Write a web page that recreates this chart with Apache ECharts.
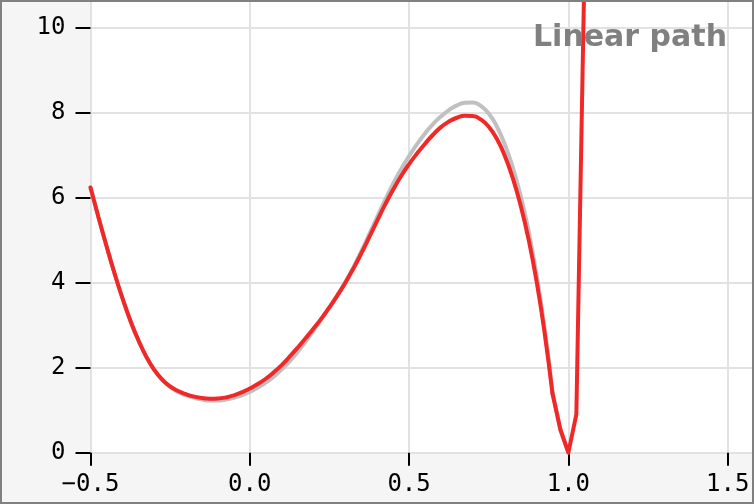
<!DOCTYPE html>
<html>
<head>
<meta charset="utf-8">
<script src="https://cdn.jsdelivr.net/npm/echarts@6/dist/echarts.min.js"></script>
<style>
  html, body { margin: 0; padding: 0; background: #fff; }
  #chart { width: 754px; height: 504px; }
</style>
</head>
<body>
<div id="chart"></div>
<script>
// sample positions (x) of the smooth stretch
const xSmooth = [
  -0.5, -0.475, -0.45, -0.425, -0.4, -0.375, -0.35, -0.325, -0.3, -0.275,
  -0.25, -0.225, -0.2, -0.175, -0.15, -0.125, -0.1, -0.075, -0.05, -0.025,
  0, 0.025, 0.05, 0.075, 0.1, 0.125, 0.15, 0.175, 0.2, 0.225,
  0.25, 0.275, 0.3, 0.325, 0.35, 0.375, 0.4, 0.425, 0.45, 0.475,
  0.5, 0.525, 0.55, 0.575, 0.6, 0.625, 0.65, 0.675, 0.7, 0.725,
  0.75, 0.775, 0.8, 0.825, 0.85, 0.875, 0.9, 0.925, 0.95
];
// sample positions near the dip, joined by straight segments
const xLinear = [0.95, 0.975, 1.0, 1.025, 1.05];

// red: linear path
const linearSmooth = [
  6.24, 5.54, 4.87, 4.23, 3.64, 3.11, 2.65, 2.26, 1.95, 1.72,
  1.56, 1.45, 1.375, 1.32, 1.285, 1.27, 1.275, 1.30, 1.35, 1.42,
  1.51, 1.615, 1.74, 1.89, 2.06, 2.26, 2.47, 2.69, 2.92, 3.16,
  3.42, 3.70, 4.00, 4.33, 4.69, 5.07, 5.46, 5.84, 6.19, 6.51,
  6.79, 7.04, 7.27, 7.48, 7.66, 7.79, 7.88, 7.925, 7.92, 7.84,
  7.67, 7.39, 6.99, 6.47, 5.82, 5.02, 4.04, 2.84, 1.39
];
const linearDip = [1.39, 0.54, 0.0, 0.9, 11.2];

// grey: reference curve
const refCurve = [
  6.24, 5.54, 4.87, 4.23, 3.64, 3.11, 2.65, 2.26, 1.95, 1.72,
  1.55, 1.43, 1.35, 1.29, 1.25, 1.23, 1.23, 1.25, 1.29, 1.35,
  1.43, 1.53, 1.65, 1.79, 1.96, 2.15, 2.37, 2.61, 2.87, 3.14,
  3.42, 3.71, 4.02, 4.36, 4.74, 5.14, 5.55, 5.95, 6.33, 6.67,
  6.98, 7.26, 7.51, 7.73, 7.91, 8.06, 8.17, 8.235, 8.24, 8.16,
  7.98, 7.68, 7.26, 6.72, 6.05, 5.22, 4.20, 2.95, 1.45
];
const refDip = [1.45, 0.54, 0.0];

const xTicks = { min: -0.5, max: 1.5826, interval: 0.5 };
const yTicks = { min: 0, max: 10.65, interval: 2 };

const gridColor = "#e2e2e2";
const redColor = "#f02828";
const tickFont = { fontFamily: "DejaVu Sans Mono", fontSize: 24, color: "#000" };

function fmtX(v) {
  return (v < 0 ? "\u2212" : "") + Math.abs(v).toFixed(1);
}

function pairs(xs, ys) {
  return ys.map((v, i) => [xs[i], v]);
}

function lineSeries(name, data, color, smooth, z) {
  return {
    name: name,
    type: "line",
    xAxisIndex: 0, yAxisIndex: 0,
    data: data,
    showSymbol: false,
    smooth: smooth,
    lineStyle: { color: color, width: 4, cap: "round", join: "round" },
    z: z
  };
}

const chart = echarts.init(document.getElementById("chart"), null, { renderer: "canvas" });

chart.setOption({
  animation: false,
  backgroundColor: "#f5f5f5",
  title: {
    text: "Linear path",
    right: 27,
    top: 23,
    padding: 0,
    textStyle: { fontFamily: "DejaVu Sans", fontWeight: "bold", fontSize: 30, color: "#808080" }
  },
  grid: {
    left: 90.5, right: 0, top: 0, bottom: 51.3,
    show: true, backgroundColor: "#fff", borderWidth: 0
  },
  xAxis: [
    {
      type: "value", ...xTicks, z: 2,
      axisLine: { show: false, onZero: false },
      axisTick: { show: true, length: 13, lineStyle: { color: "#000", width: 2 } },
      axisLabel: { ...tickFont, margin: 20, showMaxLabel: false, formatter: fmtX },
      splitLine: { show: true, lineStyle: { color: gridColor, width: 2 } }
    },
    {
      // grid lines running on through the bottom margin
      type: "value", ...xTicks, z: 1,
      axisLine: { show: false, onZero: false },
      axisTick: { show: true, length: 52, lineStyle: { color: gridColor, width: 2 } },
      axisLabel: { show: false },
      splitLine: { show: false }
    }
  ],
  yAxis: [
    {
      type: "value", ...yTicks, z: 2,
      axisLine: { show: false, onZero: false },
      axisTick: { show: true, length: 15, lineStyle: { color: "#000", width: 2 } },
      axisLabel: { ...tickFont, margin: 25, showMaxLabel: false },
      splitLine: { show: true, lineStyle: { color: gridColor, width: 2 } }
    },
    {
      type: "value", ...yTicks, z: 1,
      axisLine: { show: false, onZero: false },
      axisTick: { show: true, length: 91, lineStyle: { color: gridColor, width: 2 } },
      axisLabel: { show: false },
      splitLine: { show: false }
    }
  ],
  series: [
    lineSeries("reference", pairs(xSmooth, refCurve), "#c0c0c0", 0.5, 3),
    lineSeries("reference dip", pairs(xLinear, refDip), "#c0c0c0", false, 3),
    lineSeries("linear", pairs(xSmooth, linearSmooth), redColor, 0.5, 4),
    lineSeries("linear dip", pairs(xLinear, linearDip), redColor, false, 4)
  ],
  graphic: [
    {
      type: "rect", z: 100, silent: true,
      shape: { x: 1, y: 1, width: 752, height: 502 },
      style: { fill: null, stroke: "#808080", lineWidth: 2 }
    }
  ]
});
</script>
</body>
</html>
